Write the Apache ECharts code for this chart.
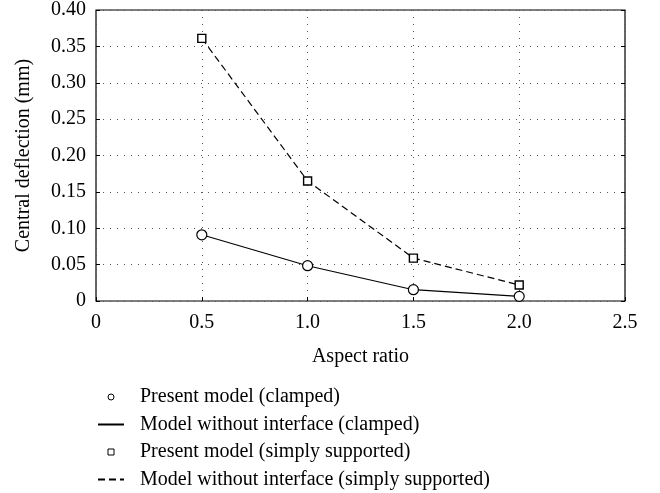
<!DOCTYPE html>
<html><head><meta charset="utf-8">
<script src="https://cdn.jsdelivr.net/npm/echarts@6/dist/echarts.min.js"></script>
<style>html,body{margin:0;padding:0;background:#fff}#c{width:660px;height:493px}</style>
</head><body><div id="c"></div>
<script>
const aspectRatios = [0.5, 1.0, 1.5, 2.0];
const clampedValues = [0.091, 0.0485, 0.0155, 0.0064];
const simplyValues = [0.361, 0.165, 0.059, 0.022];
const xTicks = [0, 0.5, 1.0, 1.5, 2.0, 2.5];
const yTicks = [0, 0.05, 0.10, 0.15, 0.20, 0.25, 0.30, 0.35, 0.40];
const seriesNames = ['Present model (clamped)', 'Model without interface (clamped)', 'Present model (simply supported)', 'Model without interface (simply supported)'];

const FONT = 'Liberation Serif';
const FS = 20;
const pairs = v => aspectRatios.map((x, i) => [x, v[i]]);
const chart = echarts.init(document.getElementById('c'));
const yAxisBase = {
  type: 'value', min: 0, max: 0.40, interval: 0.05,
  axisLine: { show: false },
  axisTick: { show: true, inside: true, length: 4, lineStyle: { color: '#000' } }
};
chart.setOption({
  animation: false,
  textStyle: { fontFamily: FONT },
  grid: { left: 96, top: 9.5, right: 35, bottom: 192, show: true, borderColor: '#000', borderWidth: 1.2, backgroundColor: 'transparent' },
  xAxis: {
    type: 'value', min: 0, max: 2.5, interval: 0.5,
    name: 'Aspect ratio', nameLocation: 'middle', nameGap: 46,
    nameTextStyle: { fontFamily: FONT, fontSize: FS, color: '#000' },
    axisLine: { show: false },
    axisTick: { show: true, inside: true, length: 4, lineStyle: { color: '#000' } },
    axisLabel: { fontFamily: FONT, fontSize: FS, color: '#000', margin: 12,
      formatter: v => (v === 0 ? '0' : v.toFixed(1)) },
    splitLine: { show: true, lineStyle: { color: '#555', type: [1, 6], width: 1 } }
  },
  yAxis: [
    Object.assign({}, yAxisBase, {
      position: 'left',
      name: 'Central deflection (mm)', nameLocation: 'middle', nameGap: 62,
      nameTextStyle: { fontFamily: FONT, fontSize: FS, color: '#000' },
      axisLabel: { fontFamily: FONT, fontSize: FS, color: '#000', margin: 10,
        formatter: v => (v === 0 ? '0' : v.toFixed(2)) },
      splitLine: { show: true, lineStyle: { color: '#555', type: [1, 6], width: 1 } }
    }),
    Object.assign({}, yAxisBase, {
      position: 'right',
      axisLabel: { show: false },
      splitLine: { show: false }
    })
  ],
  legend: {
    orient: 'vertical', left: 97, top: 387, padding: 0, itemGap: 7.5,
    itemWidth: 26, itemHeight: 6,
    textStyle: { fontFamily: FONT, fontSize: FS, lineHeight: 20, color: '#000', padding: [0, 0, 0, 11] },
    data: [
      { name: seriesNames[0], icon: 'circle', itemStyle: { color: '#fff', borderColor: '#000', borderWidth: 1 } },
      { name: seriesNames[1], itemStyle: { opacity: 0 } },
      { name: seriesNames[2], icon: 'path://M0,0L10,0L10,10L0,10Z', itemStyle: { color: '#fff', borderColor: '#000', borderWidth: 1 } },
      { name: seriesNames[3], itemStyle: { opacity: 0 } }
    ]
  },
  series: [
    { name: seriesNames[1], type: 'line', data: pairs(clampedValues), symbol: 'none', z: 2,
      lineStyle: { color: '#000', width: 1.2, type: 'solid' }, itemStyle: { color: '#000' } },
    { name: seriesNames[3], type: 'line', data: pairs(simplyValues), symbol: 'none', z: 2,
      lineStyle: { color: '#000', width: 1.2, type: [7, 4] }, itemStyle: { color: '#000' } },
    { name: seriesNames[0], type: 'scatter', data: pairs(clampedValues), symbol: 'circle', symbolSize: 10, z: 3,
      itemStyle: { color: '#fff', borderColor: '#000', borderWidth: 1.2, opacity: 1 } },
    { name: seriesNames[2], type: 'scatter', data: pairs(simplyValues), symbol: 'rect', symbolSize: 8, z: 3,
      itemStyle: { color: '#fff', borderColor: '#000', borderWidth: 1.4, opacity: 1 } }
  ]
});
</script></body></html>
